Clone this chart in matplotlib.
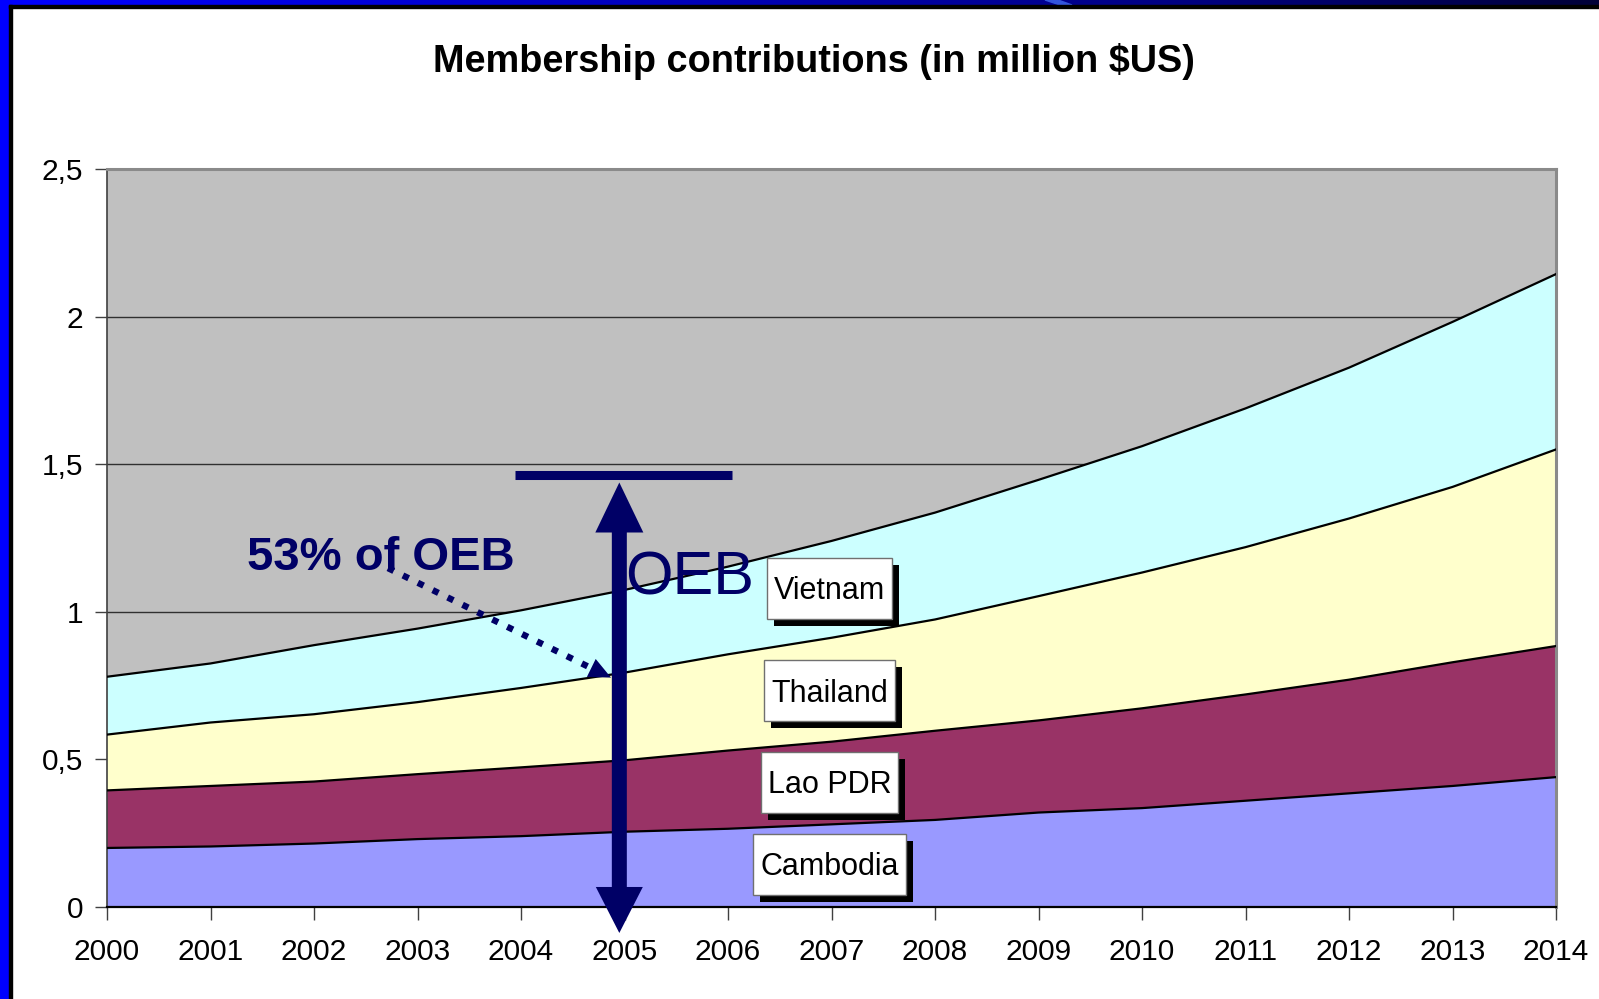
import numpy as np
import matplotlib
matplotlib.use("Agg")
import matplotlib.pyplot as plt
from matplotlib.patches import Rectangle, Polygon
import matplotlib.transforms as mtransforms

plt.rcParams['font.family'] = ['Liberation Sans', 'DejaVu Sans']

# ---------------- data ----------------
years = [2000, 2001, 2002, 2003, 2004, 2005, 2006, 2007, 2008, 2009, 2010, 2011, 2012, 2013, 2014]
cambodia = [0.200, 0.205, 0.215, 0.230, 0.240, 0.255, 0.265, 0.280, 0.295, 0.320, 0.335, 0.360, 0.385, 0.410, 0.440]
lao_pdr = [0.195, 0.205, 0.210, 0.220, 0.233, 0.242, 0.265, 0.280, 0.302, 0.312, 0.338, 0.360, 0.385, 0.419, 0.444]
thailand = [0.189, 0.215, 0.228, 0.244, 0.269, 0.297, 0.326, 0.352, 0.377, 0.421, 0.460, 0.499, 0.546, 0.594, 0.666]
vietnam = [0.196, 0.200, 0.234, 0.249, 0.263, 0.280, 0.297, 0.328, 0.362, 0.394, 0.428, 0.470, 0.511, 0.559, 0.594]
series_names = ['Cambodia', 'Lao PDR', 'Thailand', 'Vietnam']
series_colors = ['#9999FF', '#993366', '#FFFFCC', '#CCFFFF']
y_ticks = [0, 0.5, 1, 1.5, 2, 2.5]
y_tick_labels = ['0', '0,5', '1', '1,5', '2', '2,5']
title = 'Membership contributions (in million $US)'
navy = '#000066'

W, H = 1599, 999
fig = plt.figure(figsize=(W / 100, H / 100), dpi=100)
fig.patch.set_facecolor('white')

# ---------------- frame decoration ----------------
grad = np.linspace(0, 1, 400)
r = np.zeros_like(grad)
g = np.zeros_like(grad)
b = np.interp(grad, [0, 0.5, 0.75, 1.0], [1.0, 0.68, 0.5, 0.22])
img = np.stack([r, g, b], axis=-1)[None, :, :]
bar_ax = fig.add_axes([0, 1 - 5 / H, 1, 5 / H])
bar_ax.imshow(img, aspect='auto', extent=[0, 1, 0, 1])
bar_ax.add_patch(Polygon([[1045 / W, 1], [1058 / W, 1], [1072 / W, 0], [1060 / W, 0]],
                         closed=True, color='#3355DD', transform=bar_ax.transAxes))
bar_ax.axis('off')
fig.add_artist(Rectangle((0, 0), 9 / W, 1, color='#0000FF', transform=fig.transFigure, zorder=10))
fig.add_artist(Rectangle((9 / W, 0), 3 / W, 1 - 5 / H, color='black', transform=fig.transFigure, zorder=10))
fig.add_artist(Rectangle((9 / W, 1 - 8 / H), 1, 3 / H, color='black', transform=fig.transFigure, zorder=10))

# ---------------- axes ----------------
ax = fig.add_axes([107 / W, (H - 907) / H, (1556 - 107) / W, (907 - 169) / H])
ax.set_facecolor('#C0C0C0')
ax.set_xlim(2000, 2014)
ax.set_ylim(0, 2.5)
ax.set_axisbelow(True)
ax.yaxis.grid(True, color='#303030', lw=1)

data = [cambodia, lao_pdr, thailand, vietnam]
ax.stackplot(years, *data, colors=series_colors, zorder=2)
cum = np.cumsum(np.array(data), axis=0)
for row in cum:
    ax.plot(years, row, color='black', lw=1.6, zorder=3)

ax.set_xticks(years)
ax.set_xticklabels([str(y) for y in years], fontsize=21.5)
ax.set_yticks(y_ticks)
ax.set_yticklabels(y_tick_labels, fontsize=21.5)
ax.tick_params(axis='x', length=9, width=1, color='#404040', pad=13)
ax.tick_params(axis='y', length=9, width=1, color='#404040', pad=8)
ax.spines['left'].set_color('#404040')
ax.spines['left'].set_linewidth(1.2)
ax.spines['bottom'].set_color('black')
ax.spines['bottom'].set_linewidth(1.6)
for s in ['top', 'right']:
    ax.spines[s].set_color('#8A8A8A')
    ax.spines[s].set_linewidth(2.2)

fig.text(814 / W, 1 - 61 / H, title, ha='center', va='center', fontsize=27.3, fontweight='bold')

# ---------------- annotations ----------------
px_x = 103.5
px_y = 295.2
# dotted pointer
x0, y0, x1, y1 = 2002.715, 1.148, 2004.68, 0.809
ax.plot([x0, x1], [y0, y1], ls=(0, (1, 1.6)), lw=4.6, color=navy, dash_capstyle='butt', zorder=7)
tip = np.array([2004.87, 0.777])
d = np.array([(tip[0] - x0) * px_x, (tip[1] - y0) * px_y])
d = d / np.hypot(*d)
nrm = np.array([-d[1], d[0]])
base = -22 * d
head_pts = [tip,
            tip + np.array([(base[0] + 10 * nrm[0]) / px_x, (base[1] + 10 * nrm[1]) / px_y]),
            tip + np.array([(base[0] - 10 * nrm[0]) / px_x, (base[1] - 10 * nrm[1]) / px_y])]
ax.add_patch(Polygon(head_pts, closed=True, facecolor=navy, edgecolor='none', zorder=7))

# OEB double arrow (single polygon, sizes from pixel measurements)
ax_x = 2004.95
top_tip, bot_tip = 1.438, -0.088
sw, hw_up, hl_up, hw_dn, hl_dn = 7.5 / px_x, 24 / px_x, 50 / px_y, 23.5 / px_x, 46 / px_y
arrow_pts = [
    (ax_x, top_tip),
    (ax_x + hw_up, top_tip - hl_up), (ax_x + sw, top_tip - hl_up),
    (ax_x + sw, bot_tip + hl_dn), (ax_x + hw_dn, bot_tip + hl_dn),
    (ax_x, bot_tip),
    (ax_x - hw_dn, bot_tip + hl_dn), (ax_x - sw, bot_tip + hl_dn),
    (ax_x - sw, top_tip - hl_up), (ax_x - hw_up, top_tip - hl_up),
]
ax.add_patch(Polygon(arrow_pts, closed=True, facecolor=navy, edgecolor='none', zorder=8, clip_on=False))
ax.plot([2003.94, 2006.04], [1.463, 1.463], color=navy, lw=6.5, solid_capstyle='butt', zorder=8)

ax.text(2005.01, 1.111, 'OEB', color=navy, fontsize=44, ha='left', va='center', zorder=9)
ax.text(2001.35, 1.1416, '53% of OEB', color=navy, fontsize=34, fontweight='bold',
        ha='left', va='baseline', zorder=9)

# series labels with shadow boxes
label_x = 2006.98
label_y = [0.144, 0.422, 0.733, 1.079]
offset = mtransforms.ScaledTranslation(0, -11 / 100, fig.dpi_scale_trans)
texts = []
for name, yy in zip(series_names, label_y):
    t = ax.text(label_x, yy, name, fontsize=22, ha='center', va='baseline',
                transform=ax.transData + offset, zorder=12)
    texts.append((t, yy))

fig.canvas.draw()
renderer = fig.canvas.get_renderer()
for t, yy in texts:
    bb = t.get_window_extent(renderer)
    cx, cy = ax.transData.transform((label_x, yy))
    w = bb.width + 14
    h = 61
    sh = Rectangle((cx - w / 2 + 7, cy - h / 2 - 7), w, h, facecolor='black', edgecolor='none',
                   transform=mtransforms.IdentityTransform(), zorder=10, clip_on=False)
    bx = Rectangle((cx - w / 2, cy - h / 2), w, h, facecolor='white', edgecolor='#707070', lw=1,
                   transform=mtransforms.IdentityTransform(), zorder=11, clip_on=False)
    ax.add_patch(sh)
    ax.add_patch(bx)

fig.savefig('out.png', dpi=100)
